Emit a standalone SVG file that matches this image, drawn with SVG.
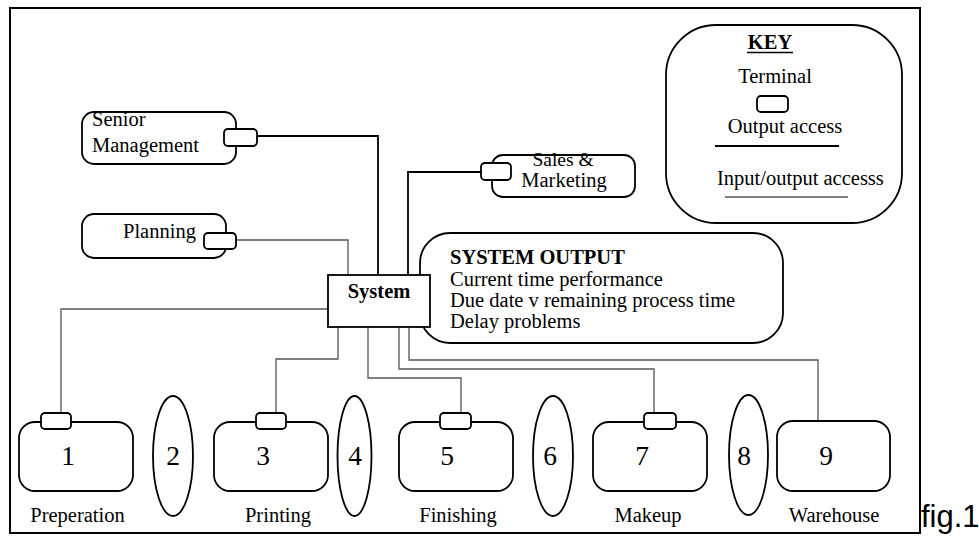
<svg xmlns="http://www.w3.org/2000/svg" width="979" height="538" viewBox="0 0 979 538">
  <style>
    .frame { fill: none; stroke: #000; stroke-width: 2; }
    .box { fill: #fff; stroke: #000; stroke-width: 1.8; }
    .term { fill: #fff; stroke: #000; stroke-width: 1.8; }
    .link { fill: none; stroke: #000; stroke-width: 1.8; }
    .thin { fill: none; stroke: #555; stroke-width: 1.3; }
    .key { fill: none; stroke: #000; }
    text { font-family: "Liberation Serif", "Times New Roman", serif; font-size: 20.5px; fill: #000; }
    .b { font-weight: bold; }
    .mid { text-anchor: middle; }
    .num { font-size: 27.5px; text-anchor: middle; }
    .tight { font-size: 19.5px; }
    .fig { font-family: "Liberation Sans", Arial, sans-serif; font-size: 31px; }
  </style>

  <!-- outer border -->
  <rect class="frame" x="10" y="8" width="910" height="525"/>

  <!-- connectors -->
  <g id="connectors">
    <polyline class="link" points="257,136 378,136 378,275"/>
    <polyline class="link" points="481,172 408,172 408,275"/>
    <polyline class="thin" points="236,240 348,240 348,275"/>
    <polyline class="thin" points="328,309 61,309 61,413"/>
    <polyline class="thin" points="338,327 338,359 276,359 276,413"/>
    <polyline class="thin" points="368,327 368,378 461,378 461,413"/>
    <polyline class="thin" points="399,327 399,369 654,369 654,413"/>
    <polyline class="thin" points="409,327 409,360 818,360 818,421"/>
  </g>

  <!-- upper nodes -->
  <g id="senior-management">
    <rect class="box" x="82" y="112" width="154" height="52" rx="12"/>
    <rect class="term" x="224" y="129" width="33" height="17" rx="4"/>
    <text x="92" y="126">Senior</text>
    <text x="92" y="152">Management</text>
  </g>

  <g id="planning">
    <rect class="box" x="82" y="214" width="144" height="44" rx="12"/>
    <rect class="term" x="204" y="233" width="32" height="16" rx="4"/>
    <text x="123" y="238">Planning</text>
  </g>

  <g id="sales-marketing">
    <rect class="box" x="492" y="155" width="143" height="42" rx="11"/>
    <rect class="term" x="481" y="163" width="30" height="17" rx="4"/>
    <text class="mid tight" x="563" y="166">Sales &amp;</text>
    <text class="mid" x="564" y="187">Marketing</text>
  </g>

  <g id="key">
    <rect class="box" x="666" y="25" width="236" height="198" rx="50"/>
    <text class="b mid" x="770" y="49">KEY</text>
    <line class="key" x1="747" y1="52.5" x2="793" y2="52.5" stroke-width="1.5"/>
    <text class="mid" x="775" y="83">Terminal</text>
    <rect class="term" x="757" y="96" width="31" height="16" rx="4"/>
    <text class="mid" x="785" y="133">Output access</text>
    <line class="key" x1="715" y1="146" x2="839" y2="146" stroke-width="1.8"/>
    <text x="717" y="185">Input/output accesss</text>
    <line class="key" x1="725" y1="197" x2="848" y2="197" stroke-width="1.1"/>
  </g>

  <g id="system-output">
    <rect class="box" x="420" y="233" width="363" height="110" rx="30"/>
    <text class="b" x="450" y="264">SYSTEM OUTPUT</text>
    <text x="450" y="286">Current time performance</text>
    <text x="450" y="307">Due date v remaining process time</text>
    <text x="450" y="328">Delay problems</text>
  </g>

  <g id="system">
    <rect class="box" x="328" y="275" width="102" height="52"/>
    <text class="b mid" x="379" y="298">System</text>
  </g>

  <!-- process stations -->
  <g id="station-1">
    <rect class="box" x="19" y="422" width="114" height="69" rx="16"/>
    <rect class="term" x="41" y="413" width="30" height="16" rx="4"/>
    <text class="num" x="68" y="465">1</text>
    <text class="mid" x="77.5" y="522">Preperation</text>
  </g>

  <g id="station-2">
    <ellipse class="box" cx="173" cy="456" rx="20" ry="60"/>
    <text class="num" x="173" y="465">2</text>
  </g>

  <g id="station-3">
    <rect class="box" x="214" y="422" width="114" height="69" rx="16"/>
    <rect class="term" x="256" y="413" width="30" height="16" rx="4"/>
    <text class="num" x="263" y="465">3</text>
    <text class="mid" x="278" y="522">Printing</text>
  </g>

  <g id="station-4">
    <ellipse class="box" cx="354.5" cy="456" rx="17" ry="60"/>
    <text class="num" x="355" y="465">4</text>
  </g>

  <g id="station-5">
    <rect class="box" x="399" y="422" width="114" height="69" rx="16"/>
    <rect class="term" x="440" y="413" width="31" height="16" rx="4"/>
    <text class="num" x="447" y="465">5</text>
    <text class="mid" x="458" y="522">Finishing</text>
  </g>

  <g id="station-6">
    <ellipse class="box" cx="553" cy="456" rx="20" ry="60"/>
    <text class="num" x="550" y="465">6</text>
  </g>

  <g id="station-7">
    <rect class="box" x="593" y="422" width="114" height="69" rx="16"/>
    <rect class="term" x="644" y="413" width="32" height="16" rx="4"/>
    <text class="num" x="642" y="465">7</text>
    <text class="mid" x="648" y="522">Makeup</text>
  </g>

  <g id="station-8">
    <ellipse class="box" cx="748.5" cy="455" rx="19.5" ry="60"/>
    <text class="num" x="744" y="465">8</text>
  </g>

  <g id="station-9">
    <rect class="box" x="777" y="421" width="113" height="70" rx="16"/>
    <text class="num" x="826" y="465">9</text>
    <text class="mid" x="834" y="522">Warehouse</text>
  </g>

  <text class="fig" x="921" y="527">fig.1</text>
</svg>
